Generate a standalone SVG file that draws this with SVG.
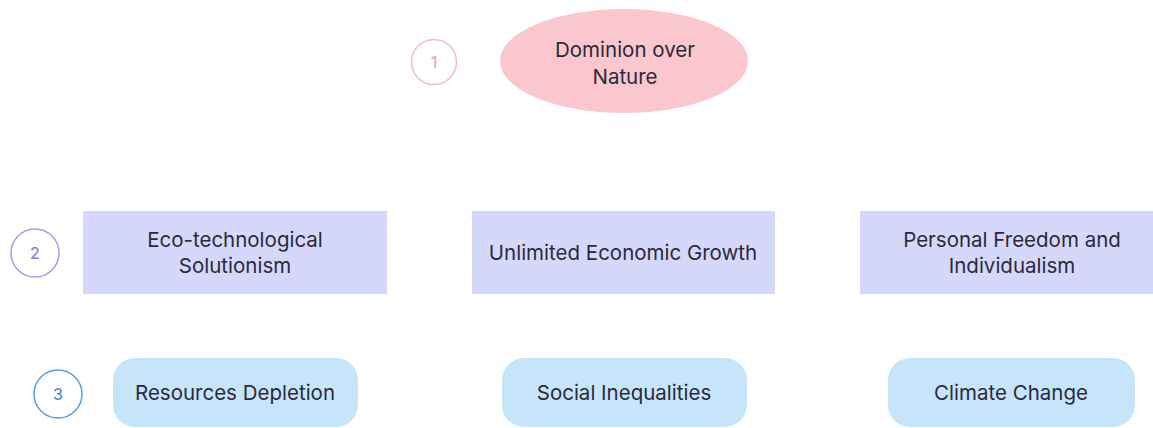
<svg xmlns="http://www.w3.org/2000/svg" width="1153" height="428" viewBox="0 0 1153 428">
<style>
.t{font-family:Inter,"Noto Sans","Liberation Sans",sans-serif;font-size:20.5px;fill:#2a2a3a;text-anchor:middle}
.rect{fill:#d6d8fb}
.pill{fill:#c6e5fb}
.num{font-family:Inter,"Noto Sans","Liberation Sans",sans-serif;font-size:16px;text-anchor:middle;font-weight:500}
</style>
<rect width="1153" height="428" fill="#ffffff"/>
<g id="levels">
<g id="level1"><circle cx="434" cy="62" r="22.5" fill="none" stroke="#f2bccb" stroke-width="1.5"/><text class="num" x="434" y="68" fill="#f0a8bc">1</text></g>
<g id="level2"><circle cx="35" cy="253" r="24" fill="none" stroke="#a79ce6" stroke-width="1.5"/><text class="num" x="35" y="259" fill="#8d80dc">2</text></g>
<g id="level3"><circle cx="58" cy="394" r="24" fill="none" stroke="#5aa0da" stroke-width="1.5"/><text class="num" x="58" y="400" fill="#4a92d4">3</text></g>
</g>
<g id="dominion"><ellipse cx="624" cy="61" rx="124" ry="52" fill="#f9c7cd"/><text class="t" x="625" y="57" fill="#3a2a2e">Dominion over</text><text class="t" x="625" y="84" fill="#3a2a2e">Nature</text></g>
<g id="eco"><rect class="rect" x="83" y="211" width="304" height="83"/><text class="t" x="235" y="247">Eco-technological</text><text class="t" x="235" y="273">Solutionism</text></g>
<g id="growth"><rect class="rect" x="472" y="211" width="303" height="83"/><text class="t" x="623" y="260">Unlimited Economic Growth</text></g>
<g id="freedom"><rect class="rect" x="860" y="211" width="303" height="83"/><text class="t" x="1012" y="247">Personal Freedom and</text><text class="t" x="1012" y="273">Individualism</text></g>
<g id="depletion"><rect class="pill" x="113" y="358" width="245" height="69" rx="22"/><text class="t" x="235" y="400">Resources Depletion</text></g>
<g id="inequalities"><rect class="pill" x="502" y="358" width="245" height="69" rx="22"/><text class="t" x="624" y="400">Social Inequalities</text></g>
<g id="climate"><rect class="pill" x="888" y="358" width="247" height="69" rx="22"/><text class="t" x="1011" y="400">Climate Change</text></g>
<g id="connectors"></g>
</svg>
